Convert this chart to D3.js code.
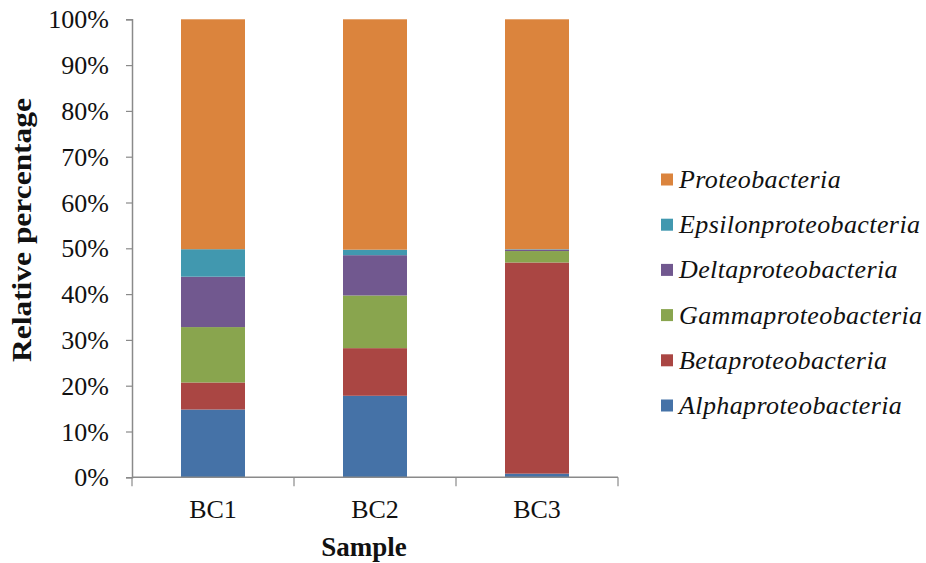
<!DOCTYPE html>
<html>
<head>
<meta charset="utf-8">
<script src="https://cdn.jsdelivr.net/npm/d3@7"></script>
<style>
  html, body { margin: 0; padding: 0; background: #fff; }
  svg { display: block; }
</style>
</head>
<body>
<svg id="chart" width="926" height="563"></svg>
<script>
// Relative abundance (%) of proteobacterial classes per sample
const samples = ["BC1", "BC2", "BC3"];
const taxa = ["Alphaproteobacteria", "Betaproteobacteria", "Gammaproteobacteria",
              "Deltaproteobacteria", "Epsilonproteobacteria", "Proteobacteria"];
const alpha   = [14.8, 17.8, 0.8];
const beta    = [5.9, 10.4, 46.1];
const gamma   = [12.1, 11.5, 2.5];
const delta   = [11.0, 8.8, 0.3];
const epsilon = [6.0, 1.2, 0.1];
const proteo  = [50.2, 50.3, 50.2];
const colors  = ["#4572A7", "#AA4643", "#89A54E", "#71588F", "#4198AF", "#DB843D"];
const yTicks  = [0, 10, 20, 30, 40, 50, 60, 70, 80, 90, 100];

const FONT = '"Liberation Serif"';
const INK = "#111";

const seriesValues = [alpha, beta, gamma, delta, epsilon, proteo];
const rows = samples.map((s, i) => {
  const r = { sample: s };
  taxa.forEach((t, k) => { r[t] = seriesValues[k][i]; });
  return r;
});
const stacked = d3.stack().keys(taxa).offset(d3.stackOffsetExpand)(rows);

const svg = d3.select("#chart");
const m = { left: 132, right: 618, top: 19.3, bottom: 477.3 };

const x = d3.scaleBand().domain(samples).range([m.left, m.right]).paddingInner(0).paddingOuter(0);
const y = d3.scaleLinear().domain([0, 1]).range([m.bottom, m.top]);
const barW = 64;

// stacked bars
const g = svg.append("g");
stacked.forEach((layer, k) => {
  g.selectAll(null).data(layer).enter().append("rect")
    .attr("x", d => x(d.data.sample) + x.bandwidth() / 2 - barW / 2)
    .attr("width", barW)
    .attr("y", d => y(d[1]))
    .attr("height", d => y(d[0]) - y(d[1]))
    .attr("fill", colors[k]);
});

// y axis
const yAxis = d3.axisLeft(y)
  .tickValues(yTicks.map(v => v / 100))
  .tickFormat(v => Math.round(v * 100) + "%")
  .tickSize(6).tickSizeOuter(6).tickPadding(17);
const ya = svg.append("g").attr("transform", `translate(${m.left},0)`).call(yAxis);
ya.attr("font-family", null);
ya.select(".domain").attr("stroke", "#8a8a8a").attr("stroke-width", 1.5);
ya.selectAll(".tick line").attr("stroke", "#8a8a8a").attr("stroke-width", 1.2);
ya.selectAll(".tick text")
  .style("font-family", FONT).style("font-size", "26px").style("fill", INK)
  .attr("dy", "0.33em");

// x axis: category labels centred, tick marks at band boundaries
const xa = svg.append("g").attr("transform", `translate(0,${m.bottom})`);
xa.append("line").attr("x1", m.left).attr("x2", m.right).attr("y1", 0).attr("y2", 0)
  .attr("stroke", "#8a8a8a").attr("stroke-width", 1.5);
const bounds = samples.map(s => x(s)).concat([x(samples[samples.length - 1]) + x.bandwidth()]);
xa.selectAll("line.tk").data(bounds).enter().append("line").attr("class", "tk")
  .attr("x1", d => d).attr("x2", d => d).attr("y1", 0).attr("y2", 9)
  .attr("stroke", "#8a8a8a").attr("stroke-width", 1.2);
xa.selectAll("text.cat").data(samples).enter().append("text").attr("class", "cat")
  .attr("x", d => x(d) + x.bandwidth() / 2).attr("y", 41)
  .attr("text-anchor", "middle")
  .style("font-family", FONT).style("font-size", "26px").style("fill", INK)
  .text(d => d);

// axis titles
svg.append("text").attr("x", 364).attr("y", 556).attr("text-anchor", "middle")
  .style("font-family", FONT).style("font-size", "27px").style("font-weight", "bold")
  .style("fill", INK).text("Sample");
svg.append("text").attr("transform", "translate(31,230) rotate(-90)")
  .attr("text-anchor", "middle")
  .attr("textLength", 264).attr("lengthAdjust", "spacingAndGlyphs")
  .style("font-family", FONT).style("font-size", "27px").style("font-weight", "bold")
  .style("fill", INK).text("Relative percentage");

// legend, top entry is the last stacked series
const legendOrder = taxa.slice().reverse();
const lg = svg.append("g");
legendOrder.forEach((t, i) => {
  const cy = 179.5 + i * 45.2;
  const k = taxa.indexOf(t);
  lg.append("rect").attr("x", 661).attr("y", cy - 6).attr("width", 12).attr("height", 12)
    .attr("fill", colors[k]);
  lg.append("text").attr("x", 679).attr("y", cy + 8.5)
    .style("font-family", FONT).style("font-size", "26px").style("font-style", "italic")
    .style("letter-spacing", "0.4px").style("fill", INK).text(t);
});
</script>
</body>
</html>
